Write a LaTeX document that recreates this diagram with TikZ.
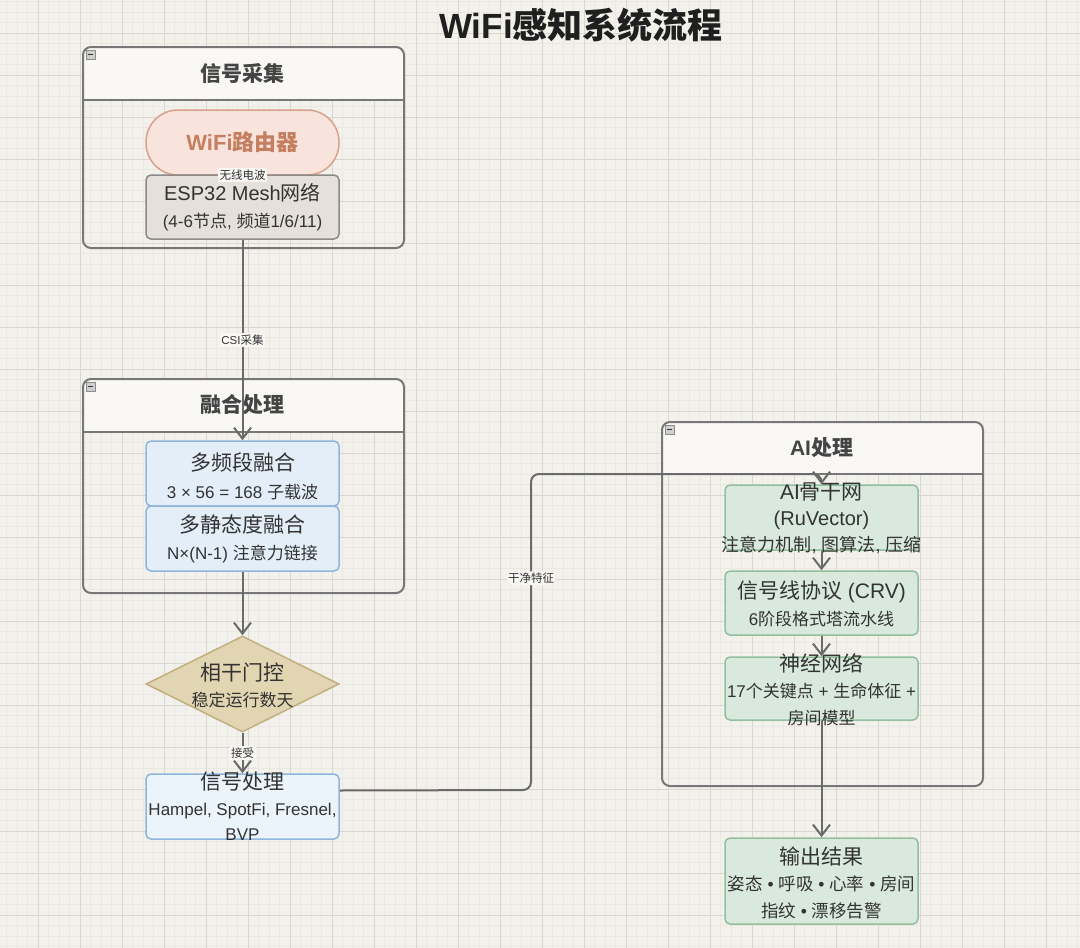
\documentclass[tikz,border=0pt]{standalone}
\usepackage{fontspec}
\setmainfont{Liberation Sans}
\newfontfamily\cjk{Noto Sans CJK SC}
\newcommand{\zh}[1]{{\cjk #1}}
\newcommand{\fsz}[2]{\fontsize{#1}{#2}\selectfont}
\usetikzlibrary{arrows.meta,shapes.geometric}
\definecolor{bg}{HTML}{F3F1EC}
\definecolor{gminorc}{HTML}{EBE8E2}
\definecolor{gmajorc}{HTML}{DAD7D0}
\definecolor{clborder}{HTML}{777777}
\definecolor{hdr}{HTML}{F9F8F5}
\definecolor{txt}{HTML}{333333}
\definecolor{cltxt}{HTML}{444444}
\definecolor{edgec}{HTML}{6A6A6A}
\definecolor{wififill}{HTML}{F8E4DC}
\definecolor{wifidraw}{HTML}{D9A08A}
\definecolor{wifitxt}{HTML}{C47E60}
\definecolor{espfill}{HTML}{E5E1DA}
\definecolor{espdraw}{HTML}{8C8A86}
\definecolor{bluefill}{HTML}{E3EEF9}
\definecolor{bluedraw}{HTML}{8FB5DA}
\definecolor{tanfill}{HTML}{E2D6B2}
\definecolor{tandraw}{HTML}{C2AE80}
\definecolor{greenfill}{HTML}{D9E9DD}
\definecolor{greendraw}{HTML}{93BF9E}
\definecolor{labbg}{HTML}{F8F7F4}
\definecolor{iconfill}{HTML}{CFCFCF}
\begin{document}
\begin{tikzpicture}[x=1pt,y=-1pt,
  box/.style={draw, rounded corners=5pt, line width=1.5pt, minimum width=193pt, minimum height=65pt, inner sep=0pt},
  tx/.style={align=center, inner sep=0pt, text=txt, font=\fsz{17}{27}},
  cluster/.style={draw=clborder, line width=2pt, rounded corners=8pt, anchor=north west, inner sep=0pt},
  cltitle/.style={font=\fsz{21}{24}\bfseries, text=cltxt, inner sep=0pt},
  icon/.style={draw=black!45, fill=iconfill, line width=0.7pt, minimum size=9pt, inner sep=0pt},
  conn/.style={draw=edgec, line width=2pt, -{Straight Barb[length=11pt,width=17pt]}},
  plain/.style={draw=edgec, line width=2pt},
  lab/.style={fill=labbg, inner sep=1.5pt, font=\fsz{11.5}{13}, text=black!80},
  gminor/.style={draw=gminorc, line width=0.5pt},
  gmajor/.style={draw=gmajorc, line width=0.9pt}
]
\useasboundingbox (0,0) rectangle (1080,948);
\fill[bg] (0,0) rectangle (1080,948);
% grid
\foreach \i in {0,...,102} \draw[gminor] ({6.5+10.5*\i},0) -- ++(0,948);
\foreach \i in {0,...,90} \draw[gminor] (0,{1.5+10.5*\i}) -- ++(1080,0);
\foreach \i in {-1,...,25} \draw[gmajor] ({38+42*\i},0) -- ++(0,948);
\foreach \i in {0,...,22} \draw[gmajor] (0,{33+42*\i}) -- ++(1080,0);

% title
\node[font=\fsz{35}{40}\bfseries, text=black!88, inner sep=0pt] (title) at (581,25) {WiFi\zh{感知系统流程}};

% cluster headers
\begin{scope}
\clip[rounded corners=8pt] (82,46) rectangle (403,247);
\fill[hdr] (82,46) rectangle (403,100);
\end{scope}
\begin{scope}
\clip[rounded corners=8pt] (82,378) rectangle (403,592);
\fill[hdr] (82,378) rectangle (403,432);
\end{scope}
\begin{scope}
\clip[rounded corners=8pt] (661,421) rectangle (982,785);
\fill[hdr] (661,421) rectangle (982,474);
\end{scope}
\draw[draw=clborder, line width=2pt] (82,100) -- (403,100);
\draw[draw=clborder, line width=2pt] (82,432) -- (403,432);
\draw[draw=clborder, line width=2pt] (661,474) -- (982,474);
\node[cluster, minimum width=321pt, minimum height=201pt] (c1) at (82,46) {};
\node[cluster, minimum width=321pt, minimum height=214pt] (c2) at (82,378) {};
\node[cluster, minimum width=321pt, minimum height=364pt] (c3) at (661,421) {};
\node[cltitle] (c1t) at (242.5,73) {\zh{信号采集}};
\node[cltitle] (c2t) at (242.5,405) {\zh{融合处理}};
\node[cltitle] (c3t) at (821.5,448) {AI\zh{处理}};
\foreach \n/\x/\y in {i1/90.5/54.5, i2/90.5/386.5, i3/669.5/429.5} {
  \node[icon] (\n) at (\x,\y) {};
  \draw[black!80, line width=1pt] ([xshift=-2.5pt]\n.center) -- ([xshift=2.5pt]\n.center);
}

% nodes
\node[box, rounded corners=32pt, fill=wififill, draw=wifidraw] (wifi) at (242.5,142.5) {};
\node[box, fill=espfill, draw=espdraw, minimum height=64pt] (esp) at (242.5,207) {};
\node[box, fill=bluefill, draw=bluedraw] (mf) at (242.5,473.5) {};
\node[box, fill=bluefill, draw=bluedraw] (ms) at (242.5,538.5) {};
\node[diamond, draw=tandraw, fill=tanfill, line width=1.5pt, minimum width=193pt, minimum height=96pt, inner sep=0pt] (gate) at (242.5,684) {};
\node[box, fill=bluefill!70!white, draw=bluedraw] (sp) at (242.5,806.5) {};
\node[box, fill=greenfill, draw=greendraw] (ai1) at (821.5,517.5) {};
\node[box, fill=greenfill, draw=greendraw, minimum height=64pt] (ai2) at (821.5,603) {};
\node[box, fill=greenfill, draw=greendraw, minimum height=63pt] (ai3) at (821.5,688.5) {};
\node[box, fill=greenfill, draw=greendraw, minimum height=86pt] (out) at (821.5,881) {};

% texts
\node[tx, font=\fsz{22}{24}\bfseries, text=wifitxt] (wifit) at (242.5,142.5) {WiFi\zh{路由器}};
\node[tx] (espt) at (242.5,207) {{\fsz{20}{27}ESP32 Mesh\zh{网络}}\\{\fsz{17}{27}(4-6\zh{节点}, \zh{频道}1/6/11)}};
\node[tx, font=\fsz{17}{28}] (mft) at (242.5,476) {{\fsz{21}{28}\zh{多频段融合}}\\3 × 56 = 168 \zh{子载波}};
\node[tx, font=\fsz{17}{27}] (mst) at (242.5,539) {{\fsz{21}{27}\zh{多静态度融合}}\\N×(N-1) \zh{注意力链接}};
\node[tx, font=\fsz{17}{26}] (gatet) at (242.5,685) {{\fsz{21}{26}\zh{相干门控}}\\\zh{稳定运行数天}};
\node[tx, font=\fsz{17}{25.5}] (spt) at (242.5,806.5) {{\fsz{21}{25.5}\zh{信号处理}}\\Hampel, SpotFi, Fresnel,\\BVP};
\node[tx, font=\fsz{18}{26}] (ai1t) at (821.5,518) {{\fsz{21}{26}AI\zh{骨干网}}\\{\fsz{20}{26}(RuVector)}\\\zh{注意力机制}, \zh{图算法}, \zh{压缩}};
\node[tx, font=\fsz{17}{27}] (ai2t) at (821.5,603.5) {{\fsz{21}{27}\zh{信号线协议} (CRV)}\\6\zh{阶段格式塔流水线}};
\node[tx, font=\fsz{17}{26.5}] (ai3t) at (821.5,689.5) {{\fsz{21}{26.5}\zh{神经网络}}\\17\zh{个关键点} + \zh{生命体征} +\\\zh{房间模型}};
\node[tx, font=\fsz{17.5}{26.5}] (outt) at (821.5,882.5) {{\fsz{21}{26.5}\zh{输出结果}}\\\zh{姿态} • \zh{呼吸} • \zh{心率} • \zh{房间}\\\zh{指纹} • \zh{漂移告警}};

% connectors
\draw[plain] (wifi.south) -- node[lab] (l1) {\zh{无线电波}} (esp.north);
\draw[conn] (esp.south) -- node[lab] (l2) {CSI\zh{采集}} (mf.north);
\draw[conn] (ms.south) -- (gate.north);
\draw[conn] (gate.south) -- node[lab] (l3) {\zh{接受}} (sp.north);
\draw[conn, rounded corners=8pt] ([yshift=16pt]sp.east) -- (531,790) -- node[lab, pos=0.67] (l4) {\zh{干净特征}} (531,474) -| (ai1.north);
\draw[conn] (ai1.south) -- (ai2.north);
\draw[conn] (ai2.south) -- (ai3.north);
\draw[conn] (ai3.south) -- (out.north);
\end{tikzpicture}
\end{document}
